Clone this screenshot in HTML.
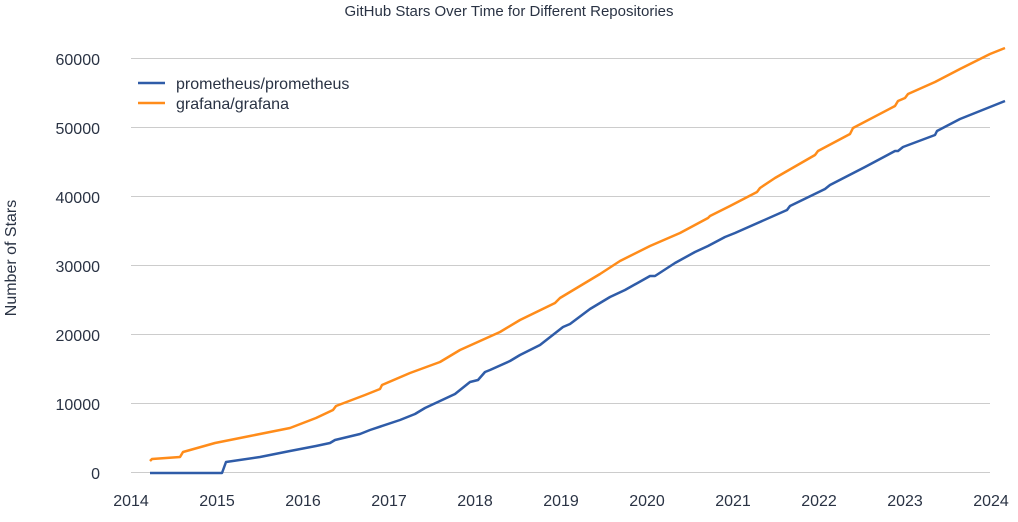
<!DOCTYPE html>
<html><head><style>
body{margin:0;background:#fff;}
svg text{font-family:"Liberation Sans",sans-serif;fill:#2a3344;}
</style></head><body>
<svg width="1018" height="517" xmlns="http://www.w3.org/2000/svg">
<text x="509" y="16" font-size="15" text-anchor="middle">GitHub Stars Over Time for Different Repositories</text>
<g stroke="#cccccc" stroke-width="1">
<line x1="131" x2="990" y1="472.5" y2="472.5"/><line x1="131" x2="990" y1="403.5" y2="403.5"/>
<line x1="131" x2="990" y1="334.5" y2="334.5"/><line x1="131" x2="990" y1="265.5" y2="265.5"/>
<line x1="131" x2="990" y1="196.5" y2="196.5"/><line x1="131" x2="990" y1="127.5" y2="127.5"/>
<line x1="131" x2="990" y1="58.5" y2="58.5"/>
</g>
<g font-size="16" text-anchor="end">
<text x="100" y="479">0</text><text x="100" y="410">10000</text><text x="100" y="341">20000</text>
<text x="100" y="272">30000</text><text x="100" y="203">40000</text><text x="100" y="134">50000</text>
<text x="100" y="65">60000</text>
</g>
<g font-size="16" text-anchor="middle">
<text x="131" y="506">2014</text><text x="217" y="506">2015</text><text x="303" y="506">2016</text>
<text x="389" y="506">2017</text><text x="475" y="506">2018</text><text x="561" y="506">2019</text>
<text x="647" y="506">2020</text><text x="733" y="506">2021</text><text x="819" y="506">2022</text>
<text x="905" y="506">2023</text><text x="991" y="506">2024</text>
</g>
<text transform="translate(16,258) rotate(-90)" font-size="16" text-anchor="middle">Number of Stars</text>
<polyline fill="none" stroke="#ff8c1a" stroke-width="2.5" stroke-linejoin="round" points="150,461 152,459 180,457 183,452 215,443 250,436 290,428 316,418 333,410 336,406 365,395 380,389 382,385 410,373 440,362 455,353 460,350 500,332 520,320 555,303 560,298 600,274 620,261 650,246 680,233 708,218 710,216 730,206 757,192 760,188 775,178 815,155 818,151 850,134 853,128 895,106 898,101 905,98 908,94 935,82 960,69 990,54 1005,48"/>
<polyline fill="none" stroke="#2f5ca8" stroke-width="2.5" stroke-linejoin="round" points="150,473 222,473 226,462 260,457 290,451 316,446 330,443 335,440 360,434 370,430 400,420 415,414 425,408 440,401 455,394 470,382 478,380 485,372 490,370 510,361 520,355 540,345 563,327 570,324 590,309 610,297 625,290 650,276 655,276 675,263 695,252 708,246 725,237 735,233 787,210 790,206 825,189 830,185 865,167 895,151 898,151 903,147 935,135 937,131 960,119 1005,101"/>
<line x1="138" x2="165" y1="83" y2="83" stroke="#2f5ca8" stroke-width="2.5"/>
<line x1="138" x2="165" y1="103" y2="103" stroke="#ff8c1a" stroke-width="2.5"/>
<text x="176" y="89" font-size="16">prometheus/prometheus</text>
<text x="176" y="109" font-size="16">grafana/grafana</text>
</svg>
</body></html>
